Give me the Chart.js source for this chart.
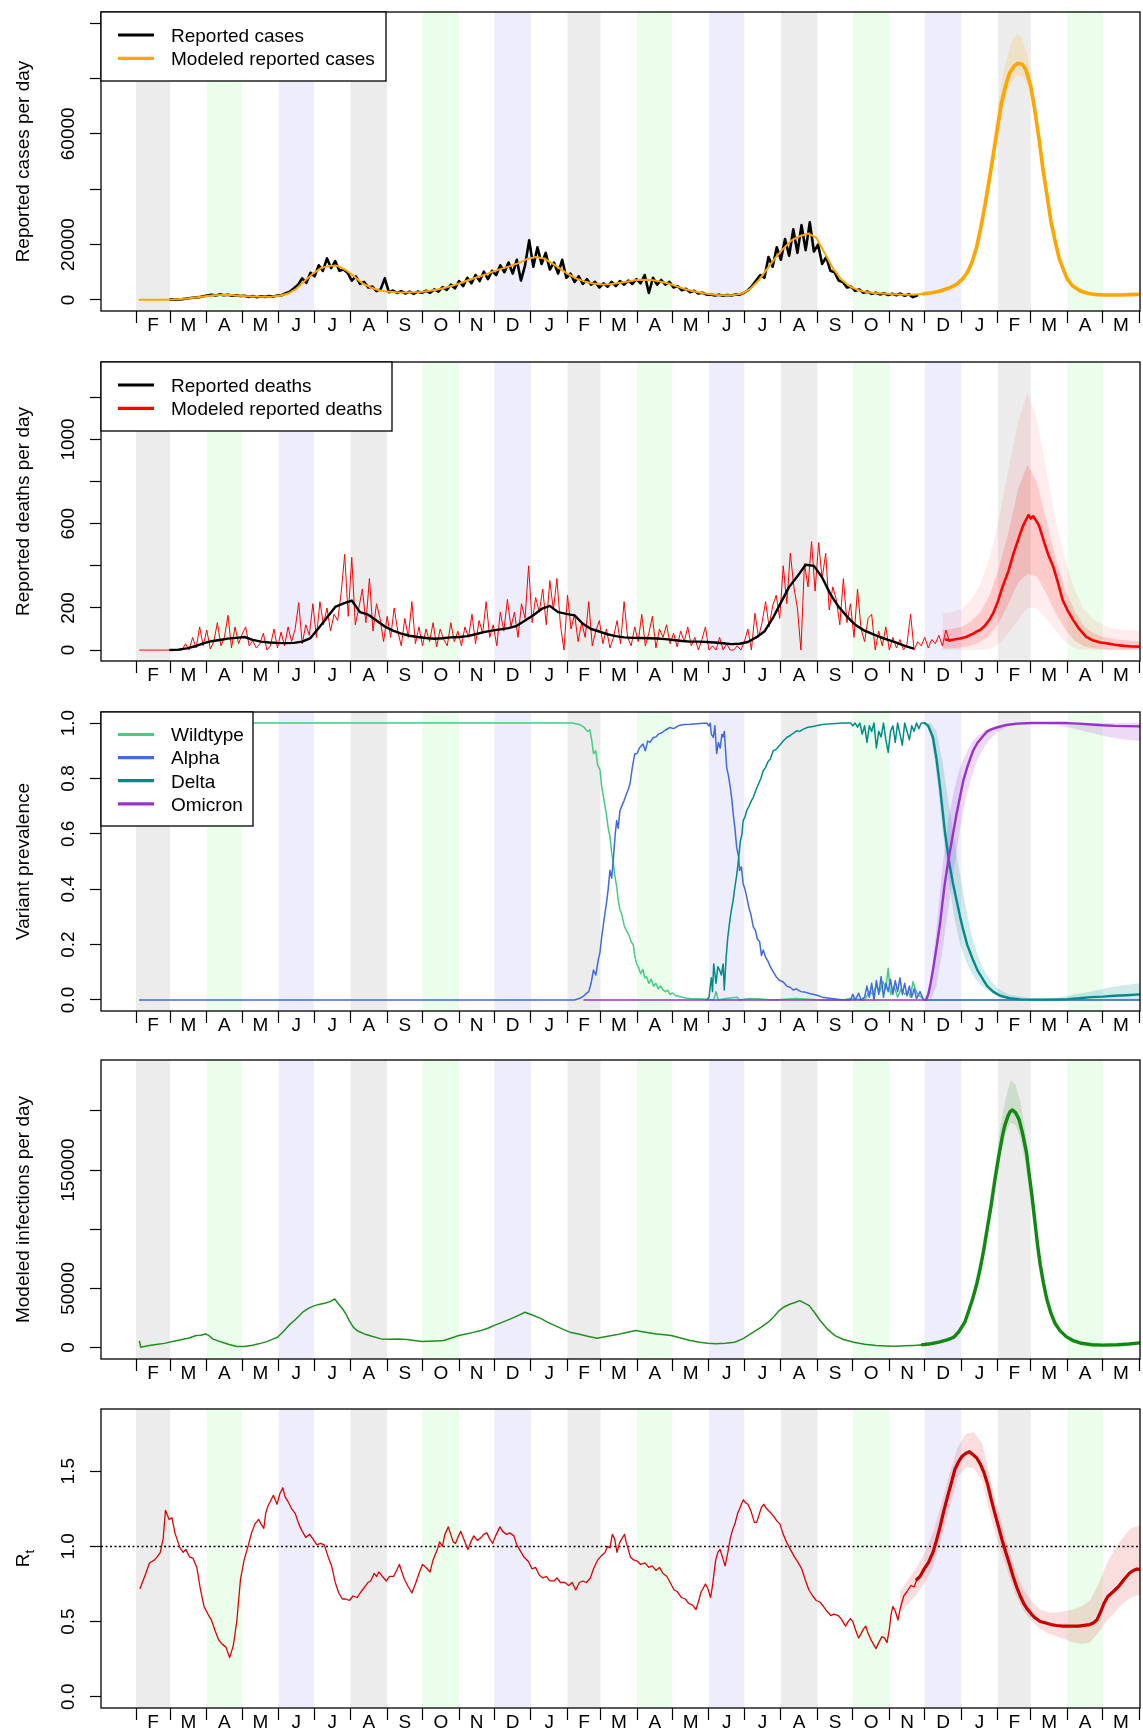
<!DOCTYPE html>
<html>
<head>
<meta charset="utf-8">
<title>Cases, deaths, variants, infections and Rt</title>
<script src="https://cdn.jsdelivr.net/npm/chart.js@4.4.1/dist/chart.umd.min.js"></script>
<style>
  html, body { margin: 0; padding: 0; background: #fff; }
  body { position: relative; width: 1143px; height: 1733px; overflow: hidden; }
  canvas { position: absolute; left: 0; }
</style>
</head>
<body>
<canvas id="cases" width="1143" height="349" style="top:0px"></canvas>
<canvas id="deaths" width="1143" height="349" style="top:350px"></canvas>
<canvas id="variants" width="1143" height="348" style="top:700px"></canvas>
<canvas id="infections" width="1143" height="349" style="top:1048px"></canvas>
<canvas id="rt" width="1143" height="336" style="top:1397px"></canvas>
<script>
// x values are days since 1 Feb 2020
const monthStarts = [0, 29, 60, 90, 121, 151, 182, 213, 243, 274, 304, 335, 366, 394, 425, 455, 486, 516, 547, 578, 608, 639, 669, 700, 731, 759, 790, 820, 851];
const monthLetters = ['F','M','A','M','J','J','A','S','O','N','D','J','F','M','A','M','J','J','A','S','O','N','D','J','F','M','A','M'];
const monthShade = ['gray','','green','','blue','','gray','','green','','blue','','gray','','green','','blue','','gray','','green','','blue','','gray','','green',''];

// ---- panel 1: reported cases (thousands) ----
const reportedCasesStart = 29, reportedCasesStep = 3.5;
const reportedCasesK = [0.1,0.1,0.2,0.3,0.5,0.7,0.9,1.0,1.3,
  1.6,1.9,1.6,2.0,1.7,1.9,1.5,1.7,1.4,
  1.5,1.1,1.4,1.0,1.3,1.1,1.4,1.2,1.6,
  1.7,2.4,3.0,4.2,5.5,7.8,6.2,9.8,8.5,
  12.5,10.5,15.0,11.5,14.0,10.5,11.0,9.8,
  7.0,8.5,5.8,6.5,4.5,4.8,3.2,3.8,7.8,
  2.8,3.4,2.5,3.2,2.3,3.0,2.2,3.0,2.6,
  3.3,2.6,3.8,3.0,4.6,3.6,5.5,4.2,
  6.8,5.0,8.0,6.0,9.0,6.8,10.2,7.5,10.5,
  9.0,12.5,10.0,13.5,9.5,14.5,7.0,12.5,21.5,
  12.0,19.0,13.0,17.0,11.0,13.5,9.5,14.5,8.0,
  9.5,6.5,8.5,5.8,7.5,5.5,6.5,4.5,
  6.0,4.8,6.5,5.0,6.8,5.5,7.0,5.8,7.5,
  6.0,9.0,2.5,8.0,5.5,7.2,5.5,6.5,
  4.5,5.0,3.5,4.0,2.8,3.3,2.3,2.6,1.9,
  2.0,1.6,1.9,1.5,1.8,1.6,2.0,1.9,2.5,
  3.5,5.0,7.0,9.0,8.0,15.5,12.0,19.0,
  14.5,22.0,16.0,25.5,17.0,27.0,18.0,28.0,17.5,
  20.0,13.0,15.5,10.5,10.0,7.0,6.5,4.5,4.8,
  3.3,3.8,2.6,3.0,2.2,2.6,2.0,2.4,1.8,
  2.2,1.7,2.3,1.5,2.1,1.0,1.6];
const modeledCasesStart = 3, modeledCasesStep = 7;
const modeledCasesK = [0.05,0.05,0.05,0.05,0.15,0.35,0.6,0.95,1.35,1.65,
  1.8,1.75,1.55,1.35,1.2,1.15,1.25,1.5,2.3,4.0,
  6.8,9.5,11.5,12.3,12.3,10.8,8.5,6.0,4.5,3.5,
  3.0,2.8,2.7,2.8,2.9,3.2,3.7,4.4,5.2,6.2,
  7.3,8.3,9.3,10.4,11.4,12.3,13.4,14.8,15.5,15.0,
  13.2,11.2,9.2,7.6,6.6,5.9,5.6,5.7,6.1,6.6,
  7.1,7.3,7.2,6.7,6.0,5.0,4.0,3.2,2.6,2.1,
  1.8,1.7,1.8,2.3,4.0,7.0,11.0,15.0,18.5,21.5,
  23.0,24.0,22.5,17.0,11.5,7.5,5.0,3.6,2.9,2.5,
  2.3,2.1,2.0,1.9,2.0,2.2];
const casesForecastDays = [668,675,682,689,696,701,705,709,713,717,720,724,727,731,734,738,741,745,748,752,755,759,762,766,769,773,776,780,783,787,790,794,801,808,815,822,829,836,843,850];
const casesForecastK = [2.2,2.6,3.2,4.2,5.6,7.5,9.8,13.5,19.0,27.0,34.0,44.0,52.0,63.0,71.0,78.0,82.0,84.5,85.5,85.0,83.0,77.0,69.5,58.0,48.0,37.0,28.5,20.5,15.0,10.5,7.5,5.2,3.2,2.3,1.9,1.8,1.8,1.8,1.9,2.0];
const casesBandDays = [696,703,710,717,724,731,735,739,743,747,751,755,759,763,767,774,781,790];
const casesBandHighK = [6.2,9.0,16,31,50,70,80,88,94,96,95,90,82,71,58,37,21,8.5];
const casesBandLowK = [5.2,7.4,12.5,25,41,59,69,75,79,81,81,79,73,63,51,33,19,7];

// ---- panel 2: deaths ----
const reportedDeathsStart = 29, reportedDeathsStep = 7;
const reportedDeaths = [0,2,8,18,32,42,48,54,58,62,
  48,40,36,34,33,34,40,57,105,155,
  205,222,235,180,168,140,112,92,78,68,
  62,57,54,56,60,62,66,75,85,92,
  98,104,115,140,165,195,210,180,172,165,
  125,100,88,75,66,60,58,57,56,55,
  52,48,43,40,40,38,36,32,28,30,
  38,60,88,150,225,300,350,405,400,345,
  265,205,160,120,95,78,62,48,35,20,
  8];
const modeledDeathsStart = 3, modeledDeathsStep = 3;
const modeledDeaths = [0,0,0,0,0,0,0,0,0,0,0,0,0,
  30,0,60,10,110,20,95,5,40,130,
  20,60,165,10,110,30,75,110,20,45,
  10,30,80,0,20,100,10,85,20,110,
  40,100,225,30,120,70,220,60,230,120,
  200,90,170,140,270,455,160,440,120,200,
  290,130,340,90,220,150,40,160,60,200,
  90,20,150,60,230,30,110,20,100,40,
  130,15,100,50,20,130,40,90,20,110,
  60,170,30,140,80,230,60,120,20,180,
  90,240,110,180,60,220,150,400,130,250,
  180,290,120,330,190,340,120,0,260,100,
  170,40,130,60,230,20,90,140,30,100,
  10,60,140,30,230,60,20,110,40,170,
  20,80,160,10,100,60,120,30,80,15,
  90,40,110,20,60,0,50,110,0,20,
  0,60,0,30,0,0,20,0,40,100,
  0,175,60,130,230,110,210,260,150,400,
  220,460,300,200,0,410,300,515,280,510,
  340,460,190,300,240,120,340,130,220,60,
  290,100,40,150,170,0,90,20,110,0,
  60,10,50,0,30,170,0,40,20,60,
  10,50,30,70,20,95,40];
const deathsForecastDays = [687,690,694,699,704,709,713,716,720,724,727,731,735,740,744,748,752,755,757,759,761,764,766,768,771,774,778,782,786,790,795,800,806,812,818,823,830,838,845,852];
const deathsForecast = [50,45,50,55,62,75,88,95,115,145,174,230,300,375,453,520,585,620,641,625,635,610,590,554,500,450,396,320,237,190,142,100,63,45,36,32,25,20,17,16];
const deathsBandDays = [684,692,700,708,716,724,732,740,748,756,764,772,780,788,796,804,812,822,832,842,852];
const deathsOuterHigh = [175,180,195,235,310,440,620,860,1080,1220,1100,860,620,430,290,195,145,115,100,95,90];
const deathsOuterLow = [0,0,0,0,0,5,30,80,140,200,200,150,90,40,10,0,0,0,0,0,0];
const deathsInnerHigh = [95,100,110,135,180,260,390,560,760,880,800,620,440,290,185,115,80,60,50,45,40];
const deathsInnerLow = [8,8,12,22,38,70,130,220,320,360,350,270,175,100,45,18,8,3,2,1,1];

// ---- panel 3: variant prevalence ----
const wildDays = [3,370,376,380,383,385,386.5,388,390,391.5,393.6,395,397,399,400.5,402,403.5,405,406.5,407.7,409,410.5,412,414,416,418,420,421.8,423,424.6,426,428,430,431.5,433,435,437,439,441,443,445,447,449,451,453,455,458,461,465,470,475,480,485,490,492,494,500,510,512,520,530,540,560,580,600,605,618,622,625,628,631,633.6,636,638,640,643,646,649,652,655,657,659,661,663,666,669,852];
const wildValues = [1,1,0.995,0.985,0.97,0.975,0.94,0.89,0.9,0.85,0.83,0.77,0.72,0.67,0.62,0.59,0.53,0.49,0.44,0.41,0.36,0.325,0.31,0.27,0.25,0.235,0.21,0.2,0.16,0.13,0.12,0.095,0.11,0.08,0.084,0.06,0.075,0.05,0.06,0.04,0.05,0.036,0.03,0.035,0.02,0.025,0.015,0.012,0.008,0.005,0.004,0.003,0.002,0,0.03,0,0.005,0.01,0,0.005,0.003,0,0.005,0,0,0.005,0,0.03,0.02,0.05,0.03,0.066,0.04,0.114,0.02,0.05,0.01,0.04,0.02,0.03,0.01,0.066,0.04,0.02,0.01,0,0];
const alphaDays = [3,372,376,380,382,384,386,388,390,392,393.5,395,397,399,400.5,402,403.5,405,406.5,407.7,409,410.5,412,414,416,417.5,419,421,423,425,427,430,432,434,436,438.8,441,443,446,449,452.9,456,460,465,470,476,484,486,487,488,489.7,491,492.5,494,495.5,497,498,499,501,502.5,504,505.5,506.6,508,509.5,511,512,513.5,515,516.5,518,520,521.5,523.6,525.5,527,529,530.5,532,534,536,538,540,543,546,549,552,555,557.5,560,564,568,572,577,582,590,600,606,608,610,613,615,618,620,622,624,626,628,630,632,634,636,638,640,642,644,646,648,650,652,654,656,658,660,662,665,668,852];
const alphaValues = [0,0,0.005,0.015,0.024,0.03,0.06,0.108,0.09,0.144,0.17,0.228,0.29,0.348,0.40,0.468,0.44,0.516,0.60,0.648,0.62,0.684,0.70,0.72,0.744,0.76,0.78,0.84,0.888,0.89,0.91,0.924,0.90,0.935,0.93,0.948,0.95,0.96,0.965,0.975,0.984,0.98,0.99,0.995,0.996,0.998,1.0,0.99,1.0,0.96,0.948,0.99,0.89,0.93,0.91,0.96,0.95,0.97,0.84,0.81,0.77,0.72,0.67,0.62,0.55,0.52,0.468,0.48,0.42,0.40,0.372,0.33,0.31,0.264,0.25,0.22,0.21,0.16,0.18,0.155,0.14,0.12,0.105,0.084,0.07,0.065,0.05,0.045,0.036,0.04,0.03,0.028,0.022,0.018,0.01,0.005,0,0,0.02,0,0.024,0,0.01,0.05,0.01,0.06,0,0.07,0.02,0.084,0.01,0.06,0.03,0.075,0.02,0.07,0.03,0.08,0.02,0.06,0.015,0.05,0.01,0.04,0.005,0.03,0,0];
const deltaDays = [484,486,488,489,490,492,493.5,495,496.5,498,499,500.5,502,503.5,505,506.5,508,509.5,511,512.5,514,515,516.5,518,520,522,523.6,526,528,530,532,534,536,538,540.5,543,546,549,552,555,558,560.4,563,566,570,574,577,582,590,600,606,608,610,612,614,616,618,620,622,624,626,628,630,632,634,636,638,640,642,644,646,648,650,652,654,656,658,660,662,664,666,669];
const deltaValues = [0,0.01,0.08,0.03,0.13,0.06,0.12,0.108,0.09,0.13,0.036,0.15,0.228,0.28,0.324,0.36,0.408,0.45,0.504,0.57,0.60,0.648,0.66,0.684,0.70,0.72,0.732,0.76,0.78,0.80,0.828,0.84,0.86,0.87,0.90,0.905,0.92,0.935,0.948,0.955,0.965,0.972,0.97,0.978,0.985,0.988,0.99,0.995,0.998,1.0,1.0,0.99,1.0,0.985,1.0,0.96,0.99,0.93,0.99,0.97,1.0,0.91,0.97,0.95,1.0,0.94,0.894,0.97,0.99,0.93,1.0,0.96,0.92,1.0,0.97,0.94,0.99,0.97,1.0,0.98,1.0,1.0];
const deltaForecastDays = [669,672,676,679,682,684,686,688,690,693,696,699,701.7,705,710,714,718.7,722,727,733,741,750,770,790,800,810,820,830,840,852];
const deltaForecast = [1.0,0.99,0.948,0.87,0.768,0.69,0.612,0.55,0.49,0.42,0.36,0.30,0.252,0.20,0.144,0.105,0.072,0.05,0.03,0.015,0.006,0.002,0.001,0.003,0.006,0.01,0.012,0.015,0.017,0.02];
const omicronDays = [380,670];
const omicronValues = [0,0];
const omicronForecastDays = [670,672,674,676,679,682,684,686,688,690,693,696,699,701.7,705,710,714,718.7,722,726,730,737,747,760,790,800,810,820,830,840,852];
const omicronForecast = [0,0.02,0.06,0.108,0.19,0.276,0.35,0.42,0.475,0.528,0.60,0.672,0.735,0.792,0.84,0.90,0.93,0.954,0.97,0.978,0.984,0.992,0.998,1.0,1.0,0.998,0.995,0.992,0.99,0.989,0.988];
const variantBandDays = [669,674,679,684,689,694,699,704,709,714,719,724,730,740,760,780,795,810,825,840,852];
const deltaBandHigh = [1.0,1.0,0.97,0.86,0.72,0.58,0.45,0.33,0.23,0.16,0.11,0.075,0.045,0.02,0.005,0.006,0.02,0.03,0.045,0.055,0.06];
const deltaBandLow = [1.0,0.96,0.82,0.62,0.44,0.30,0.20,0.14,0.095,0.065,0.045,0.03,0.015,0.005,0,0,0,0,0,0,0];
const omicronBandHigh = [0.0,0.06,0.26,0.48,0.65,0.76,0.84,0.89,0.93,0.955,0.97,0.98,0.99,1.0,1,1,1,1,1,1,1];
const omicronBandLow = [0.0,0.0,0.05,0.18,0.33,0.48,0.62,0.73,0.81,0.87,0.91,0.94,0.965,0.99,0.998,0.995,0.98,0.965,0.95,0.94,0.935];

// ---- panel 4: modeled infections (thousands) ----
const infectionDays = [3,4,10,17,24,31,38,45,51,55,58.8,62,65,69,73,79,85.5,92,99,104,111,117,120,125,129.4,135,142,147,151.4,156,160.8,165,168.6,170.5,171.8,175,178,181,184.3,188,193.7,200,207.8,215,222,230,236,242.4,248,255,261,267,273.8,280,286,292.6,299,305,311,317.7,324,330,336,342.7,349,355.4,362,367.9,375.4,383,391,399,407,415,424,432,441.6,448,454,462,470,478,485,492,500,507.8,515,523.6,530,536.2,541,545.6,550,555,559,563,567,571,576,580.3,586,592.9,600,608.7,618,627.7,636,643.4,652,660,667];
const infectionK = [5.0,0.3,1.5,2.5,3.5,5.0,6.5,8.0,10.1,10.3,11.5,10.0,7.3,5.8,4.5,2.5,0.9,0.9,2.0,3.1,5.0,7.5,8.7,13.5,18.5,23.5,30.4,33.5,35.4,36.5,37.7,39.0,41.0,38.5,36.8,33.0,28.4,22.5,17.2,14.0,11.5,9.5,7.3,7.0,7.2,6.8,6.0,5.1,5.3,5.6,5.9,7.8,10.1,11.5,12.8,14.3,16.5,19.1,21.5,24.2,27.0,29.8,27.5,24.8,21.5,18.5,15.5,13.0,11.5,9.5,7.9,9.3,10.7,12.5,14.3,13.0,11.5,10.8,10.1,8.0,5.9,4.5,3.6,3.1,3.6,4.5,7.5,13.0,17.0,21.4,26.0,31.2,34.5,36.8,38.0,39.6,37.5,35.4,29.0,22.8,16.0,10.1,6.8,4.5,2.8,1.7,1.3,1.1,1.4,1.8,2.3];
const infForecastDays = [667,674,681,688,693.8,698,703,706,709.6,713,716,719,722,725.5,728.6,732,734.9,737,739.6,741.5,743.4,746,749,752,755.3,757.5,760,762.5,764.8,767,769.6,772.5,775.8,779.5,783.7,789,794.7,802,810.5,820,832.6,842,852];
const infForecastK = [2.3,3.2,4.5,6.5,8.7,13.5,21.4,30.0,41.0,53.0,66.4,82.0,100.1,121.0,142.3,163.0,178.8,188.0,195.6,199.5,200.7,198.5,192.8,181.0,164.7,147.0,128.1,106.0,86.0,70.0,55.1,41.0,29.8,20.5,14.3,9.2,5.9,3.6,2.3,2.0,2.3,3.0,4.0];
const infBandDays = [681,688,695,702,709,716,723,730,734,738,742,746,750,754,758,762,766,770,776,783,790,800];
const infBandHighK = [5.2,7.6,12,22,45,76,118,164,192,212,226,222,208,186,154,122,83,57,33,17,9.5,4.8];
const infBandLowK = [4.0,5.8,8.5,18,36,61,100,142,166,182,190,188,178,158,128,98,64,46,26,12.5,8,3.6];

// ---- panel 5: Rt ----
const rtDays = [3.4,8.3,11.4,15.7,18,20.6,23,25,28,30.5,33,37.3,40,42.3,45.4,48.4,51.6,54.5,57.7,61,64,67,70,73,76.3,79.4,81,82.5,84,85.6,88.6,91.7,95,98,101,104,106,108.4,110,112,114,116.5,118,119.6,122,124.5,126.5,128.8,132,135,138,141,144,147.4,150,153.5,156.5,159.7,163,165.9,169,172,175,178,181,184,187.5,191,194,196.8,199,202,204,206,209,212.3,215,218.5,221,223.4,225.5,227.7,231,234,237,240,243,246,249.4,252,255.6,257.5,259.9,262,264.9,267,269,271,273,275.4,278,281.5,284,286.5,289.5,292.7,295,297.6,300,302.6,305,308.7,311,314.3,317,320.5,323,326.7,329,332.8,336,339,342,345.2,348,351,354.5,357,360,363.8,367,370,373,376,379,382,385.4,388,391.6,395,397.8,400,402,404,406,408,410,412,414.4,416,419.4,422,425.6,428,431.7,435,437.9,441,444,447,450.3,453,456.5,459,462.7,466,468.9,472,475,477,479.4,481,483,485,487.4,489,491.7,493.5,495.4,497,499.7,502,504,506,508,510.3,512,514,515.2,517,519,521.4,523,524.5,526.4,528.5,530.5,532.5,535,538.7,541,543.5,546.1,549,552.3,555,558.5,561,564.7,568,570.8,574,577,580,583.2,586,589.4,592,595.5,598,601.8,604,606,608,610.5,612.9,615,617,619,621,623.4,625.5,627.7,630,632.7,635,637,639,640.5,642,644,646.3,648,651.2,654,657.4,660,662.3,665];
const rtValues = [0.72,0.82,0.89,0.91,0.93,0.96,1.05,1.24,1.18,1.19,
  1.09,0.99,0.96,0.98,0.93,0.92,0.86,0.72,0.60,0.55,
  0.51,0.44,0.38,0.35,0.33,0.26,0.30,0.34,0.42,0.51,
  0.78,0.91,1.00,1.09,1.15,1.18,1.15,1.12,1.22,1.27,
  1.30,1.34,1.31,1.28,1.35,1.39,1.33,1.30,1.25,1.22,
  1.15,1.10,1.06,1.08,1.05,1.01,1.02,1.01,0.93,0.87,
  0.76,0.69,0.65,0.65,0.64,0.67,0.66,0.70,0.73,0.76,
  0.77,0.82,0.80,0.83,0.80,0.77,0.80,0.80,0.84,0.88,
  0.83,0.78,0.73,0.69,0.75,0.82,0.88,0.86,0.83,0.91,
  0.98,1.03,1.00,1.08,1.13,1.08,1.03,1.02,1.06,1.10,
  1.05,0.98,1.03,1.07,1.04,1.06,1.08,1.09,1.05,1.02,
  1.07,1.13,1.10,1.08,1.09,1.07,1.01,0.96,0.93,0.90,
  0.85,0.86,0.81,0.79,0.80,0.77,0.77,0.79,0.76,0.76,
  0.74,0.76,0.71,0.76,0.77,0.76,0.79,0.85,0.91,0.94,
  0.96,1.00,0.99,1.08,1.05,0.96,1.02,1.05,1.08,1.02,
  0.93,0.91,0.90,0.88,0.89,0.86,0.87,0.84,0.86,0.82,
  0.80,0.76,0.71,0.70,0.66,0.65,0.62,0.61,0.58,0.63,
  0.70,0.72,0.75,0.72,0.66,0.74,0.91,0.96,0.98,0.94,
  0.87,0.96,1.05,1.11,1.15,1.22,1.25,1.29,1.31,1.29,
  1.28,1.24,1.20,1.16,1.16,1.21,1.26,1.28,1.25,1.22,
  1.20,1.17,1.15,1.08,1.02,0.98,0.93,0.90,0.85,0.77,
  0.71,0.67,0.64,0.63,0.60,0.57,0.54,0.55,0.54,0.52,
  0.47,0.50,0.52,0.50,0.44,0.39,0.42,0.45,0.47,0.42,
  0.38,0.35,0.32,0.36,0.40,0.39,0.36,0.45,0.55,0.60,
  0.57,0.51,0.58,0.67,0.70,0.74,0.73,0.78,0.80];
const rtForecastDays = [662.3,665,668.5,672,676,679,682,685,688.3,691.5,694.5,697.5,700.7,704,706.9,710,713,716,719.3,722.5,725.5,728.5,731.6,734.7,737.8,741,744,747,750,753,756.3,759.5,762.5,767,771.8,776,781,786,790.3,795,799.6,804,808.9,812,815,818,821,824.3,829,833.6,838,842.8,846,849,852];
const rtForecast = [0.78,0.80,0.85,0.89,0.96,1.04,1.13,1.23,1.33,1.42,1.51,1.56,1.60,1.62,1.63,1.61,1.59,1.55,1.49,1.41,1.31,1.22,1.13,1.04,0.96,0.88,0.80,0.73,0.67,0.62,0.58,0.55,0.525,0.50,0.49,0.48,0.474,0.47,0.47,0.47,0.47,0.475,0.48,0.49,0.51,0.56,0.62,0.667,0.70,0.735,0.78,0.823,0.84,0.85,0.845];
const rtBandDays = [648,655,662,669,676,683,690,697,704,711,718,725,732,739,746,753,760,767,774,781,788,795,802,809,816,823,830,837,844,852];
const rtBandHigh = [0.70,0.78,0.86,0.96,1.09,1.28,1.48,1.66,1.75,1.76,1.68,1.44,1.22,1.02,0.84,0.71,0.63,0.58,0.56,0.56,0.57,0.58,0.60,0.64,0.74,0.88,0.98,1.06,1.12,1.14];
const rtBandLow = [0.55,0.62,0.68,0.76,0.86,1.05,1.25,1.46,1.53,1.52,1.43,1.19,1.01,0.84,0.68,0.57,0.50,0.45,0.42,0.40,0.38,0.36,0.35,0.36,0.42,0.50,0.56,0.62,0.66,0.68];

// y axis ticks and labels (R drops labels that would overlap)
const casesTicks = [0, 20000, 40000, 60000, 80000, 100000];
const casesTickLabels = ['0', '20000', '', '60000', '', ''];
const deathsTicks = [0, 200, 400, 600, 800, 1000, 1200];
const deathsTickLabels = ['0', '200', '', '600', '', '1000', ''];
const variantTicks = [0, 0.2, 0.4, 0.6, 0.8, 1.0];
const variantTickLabels = ['0.0', '0.2', '0.4', '0.6', '0.8', '1.0'];
const infectionTicks = [0, 50000, 100000, 150000, 200000];
const infectionTickLabels = ['0', '50000', '', '150000', ''];
const rtTicks = [0, 0.5, 1.0, 1.5];
const rtTickLabels = ['0.0', '0.5', '1.0', '1.5'];

// ---------------------------------------------------------------
const FONT = '"Liberation Sans", Arial, Helvetica, sans-serif';
const X_MIN = -29.7, X_MAX = 851.6;
const BOX_BOTTOM = 311;
const SHADES = { gray: '#ececec', green: '#ebfdeb', blue: '#ededfc' };

Chart.defaults.font.family = FONT;
Chart.defaults.font.size = 19;
Chart.defaults.color = '#000';

const monthMid = monthLetters.map((l, i) => (monthStarts[i] + monthStarts[i + 1]) / 2);
const boundarySet = new Set(monthStarts);
const xTickValues = monthStarts.concat(monthMid).sort((a, b) => a - b);

function pts(days, vals, mult) {
  mult = mult || 1;
  return days.map((d, i) => ({ x: d, y: vals[i] * mult }));
}
function stepPts(start, step, vals, mult) {
  mult = mult || 1;
  return vals.map((v, i) => ({ x: start + i * step, y: v * mult }));
}
function line(data, color, width, order) {
  return { data, borderColor: color, borderWidth: width, pointRadius: 0, fill: false,
    tension: 0, order, borderJoinStyle: 'round', borderCapStyle: 'round' };
}
function band(hi, lo, color, order) {
  return [
    { data: hi, borderWidth: 0, pointRadius: 0, fill: '+1', backgroundColor: color, order },
    { data: lo, borderWidth: 0, pointRadius: 0, fill: false, order }
  ];
}

const rPlot = {
  id: 'rplot',
  beforeDatasetsDraw(chart, args, o) {
    const { ctx, chartArea: a } = chart;
    const x = chart.scales.x, y = chart.scales.y;
    ctx.save();
    ctx.beginPath();
    ctx.rect(a.left, a.top, a.width, a.height);
    ctx.clip();
    monthShade.forEach((s, i) => {
      if (!s) return;
      const x0 = x.getPixelForValue(monthStarts[i]);
      const x1 = x.getPixelForValue(monthStarts[i + 1]);
      ctx.fillStyle = SHADES[s];
      ctx.fillRect(x0, a.top, x1 - x0, a.height);
    });
    if (o.refLine !== undefined) {
      const py = Math.round(y.getPixelForValue(o.refLine)) + 0.5;
      ctx.strokeStyle = '#000';
      ctx.lineWidth = 1.3;
      ctx.setLineDash([2, 2.5]);
      ctx.beginPath();
      ctx.moveTo(a.left, py);
      ctx.lineTo(a.right, py);
      ctx.stroke();
    }
    ctx.restore();
  },
  afterDraw(chart, args, o) {
    const { ctx, chartArea: a } = chart;
    const y = chart.scales.y;
    ctx.save();
    ctx.strokeStyle = '#000';
    ctx.lineWidth = 1.3;
    ctx.strokeRect(a.left, a.top, a.width, a.height);

    // rotated y tick labels, as R draws them
    ctx.fillStyle = '#000';
    ctx.font = '19px ' + FONT;
    ctx.textAlign = 'center';
    ctx.textBaseline = 'alphabetic';
    y.ticks.forEach((t, i) => {
      const lab = o.yLabels[i];
      if (!lab) return;
      ctx.save();
      ctx.translate(74, y.getPixelForValue(t.value));
      ctx.rotate(-Math.PI / 2);
      ctx.fillText(lab, 0, 0);
      ctx.restore();
    });

    // axis title
    ctx.save();
    ctx.translate(29, (a.top + a.bottom) / 2);
    ctx.rotate(-Math.PI / 2);
    if (o.titleSub) {
      const w1 = ctx.measureText(o.title).width;
      ctx.font = '13px ' + FONT;
      const w2 = ctx.measureText(o.titleSub).width;
      ctx.textAlign = 'left';
      ctx.font = '19px ' + FONT;
      ctx.fillText(o.title, -(w1 + w2) / 2, 0);
      ctx.font = '13px ' + FONT;
      ctx.fillText(o.titleSub, -(w1 + w2) / 2 + w1, 5);
    } else {
      ctx.fillText(o.title, 0, 0);
    }
    ctx.restore();

    // legend box in the top left corner
    if (o.legend) {
      const L = o.legend;
      ctx.fillStyle = '#fff';
      ctx.fillRect(a.left, a.top, L.width, L.height);
      ctx.strokeStyle = '#000';
      ctx.lineWidth = 1.3;
      ctx.strokeRect(a.left, a.top, L.width, L.height);
      ctx.textAlign = 'left';
      ctx.font = '19px ' + FONT;
      L.labels.forEach((label, i) => {
        const ly = a.top + L.first + i * L.step;
        ctx.strokeStyle = L.colors[i];
        ctx.lineWidth = 3.2;
        ctx.beginPath();
        ctx.moveTo(a.left + 17, ly);
        ctx.lineTo(a.left + 53, ly);
        ctx.stroke();
        ctx.fillStyle = '#000';
        ctx.fillText(label, a.left + 70, ly + 6.8);
      });
    }
    ctx.restore();
  }
};
Chart.register(rPlot);

function makePanel(id, yMin, yMax, yTicks, yLabels, datasets, plotOpts) {
  const canvas = document.getElementById(id);
  const h = canvas.height;
  return new Chart(canvas, {
    type: 'line',
    data: { datasets },
    options: {
      responsive: false,
      animation: false,
      events: [],
      layout: { padding: { top: 12, right: 3, left: 0, bottom: 0 }, autoPadding: false },
      plugins: {
        legend: { display: false },
        tooltip: { enabled: false },
        rplot: Object.assign({ yLabels }, plotOpts)
      },
      scales: {
        x: {
          type: 'linear', min: X_MIN, max: X_MAX,
          afterBuildTicks: s => { s.ticks = xTickValues.map(v => ({ value: v })); },
          afterFit: s => { s.height = h - BOX_BOTTOM; },
          border: { display: false },
          grid: {
            drawOnChartArea: false, tickLength: 12, tickWidth: 1.2,
            tickColor: c => (c.tick && boundarySet.has(c.tick.value)) ? '#000' : 'rgba(0,0,0,0)'
          },
          ticks: {
            autoSkip: false, maxRotation: 0, minRotation: 0, padding: -8.5, color: '#000',
            font: { family: FONT, size: 19 },
            callback: v => { const k = monthMid.indexOf(v); return k >= 0 ? monthLetters[k] : ''; }
          }
        },
        y: {
          type: 'linear', min: yMin, max: yMax,
          afterBuildTicks: s => { s.ticks = yTicks.map(v => ({ value: v })); },
          afterFit: s => { s.width = 101; },
          border: { display: false },
          grid: { drawOnChartArea: false, tickLength: 11, tickColor: '#000', tickWidth: 1.2 },
          ticks: { display: false }
        }
      }
    }
  });
}

// panel 1
makePanel('cases', -4000, 104000, casesTicks, casesTickLabels, [
  line(pts(casesForecastDays, casesForecastK, 1000), '#FFA500', 3.6, 1),
  line(stepPts(modeledCasesStart, modeledCasesStep, modeledCasesK, 1000), '#FFA500', 2, 2),
  line(stepPts(reportedCasesStart, reportedCasesStep, reportedCasesK, 1000), '#000000', 2.6, 3),
  ...band(pts(casesBandDays, casesBandHighK, 1000), pts(casesBandDays, casesBandLowK, 1000), 'rgba(255,165,0,0.16)', 10)
], { title: 'Reported cases per day',
     legend: { width: 285, height: 69, first: 23, step: 23.3,
               labels: ['Reported cases', 'Modeled reported cases'], colors: ['#000000', '#FFA500'] } });

// panel 2
makePanel('deaths', -52, 1368, deathsTicks, deathsTickLabels, [
  line(stepPts(reportedDeathsStart, reportedDeathsStep, reportedDeaths), '#000000', 2.4, 1),
  line(pts(deathsForecastDays, deathsForecast), '#FF0000', 2.6, 2),
  line(stepPts(modeledDeathsStart, modeledDeathsStep, modeledDeaths), '#FF0000', 1, 3),
  ...band(pts(deathsBandDays, deathsInnerHigh), pts(deathsBandDays, deathsInnerLow), 'rgba(255,0,0,0.15)', 10),
  ...band(pts(deathsBandDays, deathsOuterHigh), pts(deathsBandDays, deathsOuterLow), 'rgba(255,0,0,0.07)', 11)
], { title: 'Reported deaths per day',
     legend: { width: 291, height: 69, first: 23, step: 23.3,
               labels: ['Reported deaths', 'Modeled reported deaths'], colors: ['#000000', '#FF0000'] } });

// panel 3
makePanel('variants', -0.04, 1.04, variantTicks, variantTickLabels, [
  line(pts(omicronForecastDays, omicronForecast), '#9932CC', 2.4, 1),
  line(pts(deltaForecastDays, deltaForecast), '#008B8B', 2.4, 2),
  line(pts(omicronDays, omicronValues), '#9932CC', 1.5, 3),
  line(pts(deltaDays, deltaValues), '#008B8B', 1.5, 4),
  line(pts(alphaDays, alphaValues), '#4169E1', 1.5, 5),
  line(pts(wildDays, wildValues), '#43CD80', 1.5, 6),
  ...band(pts(variantBandDays, omicronBandHigh), pts(variantBandDays, omicronBandLow), 'rgba(153,50,204,0.18)', 10),
  ...band(pts(variantBandDays, deltaBandHigh), pts(variantBandDays, deltaBandLow), 'rgba(0,139,139,0.18)', 11)
], { title: 'Variant prevalence',
     legend: { width: 152, height: 114, first: 22.5, step: 23.1,
               labels: ['Wildtype', 'Alpha', 'Delta', 'Omicron'], colors: ['#43CD80', '#4169E1', '#008B8B', '#9932CC'] } });

// panel 4
makePanel('infections', -9700, 243000, infectionTicks, infectionTickLabels, [
  line(pts(infForecastDays, infForecastK, 1000), '#118811', 3.4, 1),
  line(pts(infectionDays, infectionK, 1000), '#1E901E', 1.5, 2),
  ...band(pts(infBandDays, infBandHighK, 1000), pts(infBandDays, infBandLowK, 1000), 'rgba(30,140,30,0.15)', 10)
], { title: 'Modeled infections per day' });

// panel 5
makePanel('rt', -0.075, 1.914, rtTicks, rtTickLabels, [
  line(pts(rtForecastDays, rtForecast), '#C80000', 3.2, 1),
  line(pts(rtDays, rtValues), '#E00000', 1.3, 2),
  ...band(pts(rtBandDays, rtBandHigh), pts(rtBandDays, rtBandLow), 'rgba(220,0,0,0.13)', 10)
], { title: 'R', titleSub: 't', refLine: 1.0 });
</script>
</body>
</html>
